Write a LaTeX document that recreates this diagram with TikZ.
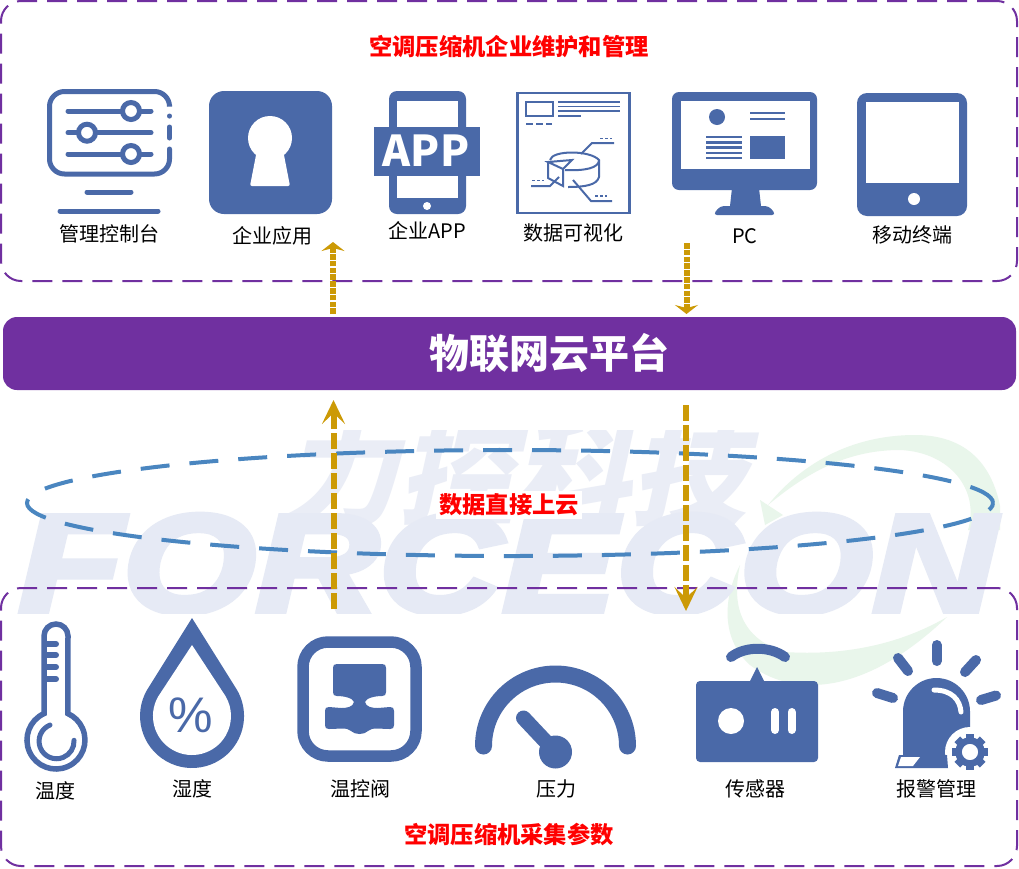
\documentclass[tikz,border=0pt]{standalone}
\usepackage{fontspec}
\setmainfont{Noto Sans CJK SC}
\newfontfamily\wmfont[BoldItalicFeatures={FakeBold=4}]{Liberation Sans}
\newfontfamily\pctfont{Liberation Sans}
\usetikzlibrary{arrows.meta,shapes.geometric}
\definecolor{iconblue}{HTML}{4A69A8}
\definecolor{panelpurple}{HTML}{7030A0}
\definecolor{flowgold}{HTML}{CC9A06}
\definecolor{cloudblue}{HTML}{4A86C0}
\definecolor{wmblue}{HTML}{E6EAF5}
\definecolor{wmpale}{HTML}{EAEDF6}
\definecolor{wmgreen}{HTML}{E9F6EB}
\begin{document}
\begin{tikzpicture}[x=1pt,y=-1pt,
    panel box/.style={draw=panelpurple,line width=2pt,dash pattern=on 20pt off 10pt,rounded corners=20pt,inner sep=0pt,outer sep=0pt,minimum width=1016pt},
    main label/.style={font=\fontsize{20}{24}\selectfont,inner sep=0pt},
    red title/.style={text=red,font=\fontsize{23.3}{27}\selectfont\bfseries,inner sep=0pt},
    flow line/.style={draw=flowgold,line width=6pt},
    small tip/.style={-{Stealth[length=9pt,width=23pt,inset=3pt]}},
    big tip/.style={-{Stealth[length=24pt,width=23pt,inset=11pt]}},
    icon line/.style={draw=iconblue,line width=#1,line cap=round},
    icon line/.default=5pt]
  \fill[white] (0,0) rectangle (1019,868);
  \useasboundingbox (0,0) rectangle (1019,868);

  \begin{scope}
    \clip (0,430) rectangle (1000,690);
    \fill[wmgreen] (768,505) .. controls (800,465) and (850,435) .. (915,435) .. controls (975,435) and (1000,475) .. (1003,530) -- (968,530) .. controls (980,490) and (950,452) .. (900,450) .. controls (850,450) and (810,470) .. (768,505) -- cycle;
    \fill[wmgreen] (760,500) -- (783,515) -- (765,525) -- cycle;
    \fill[wmgreen] (740,565) .. controls (722,600) and (722,640) .. (750,665) .. controls (790,695) and (860,700) .. (947,617) .. controls (890,650) and (830,655) .. (785,652) .. controls (745,640) and (730,610) .. (740,565) -- cycle;
  \end{scope}
  \begin{scope}
    \clip (0,430) rectangle (1019,613);
    \node[text=wmpale,xslant=.22,transform shape,inner sep=0pt,font=\fontsize{116}{120}\selectfont\bfseries] (wmcn) at (524,472) {力控科技};
    \node[text=wmblue,xscale=1.22,transform shape,inner sep=0pt,font=\wmfont\fontsize{140}{140}\selectfont\bfseries\itshape] (wmen) at (507,564) {FORCECON};
  \end{scope}

  \node[panel box,minimum height=280pt] (toppanel) at (509,141) {};
  \node[panel box,minimum height=278pt] (botpanel) at (509,727) {};
  \node[fill=panelpurple,rounded corners=14pt,minimum width=1013pt,minimum height=73pt,inner sep=0pt,outer sep=0pt] (platform) at (509.5,353.5) {};
  \node[text=white,inner sep=0pt,font=\fontsize{40}{44}\selectfont\bfseries] (platformtext) at (549,353) {物联网云平台};
  \node[ellipse,draw=cloudblue,line width=4pt,dash pattern=on 29pt off 20pt,minimum width=966pt,minimum height=106pt,inner sep=0pt,outer sep=0pt] (cloud) at (510,503) {};
  \node[red title,fill=white,inner sep=3pt] (cloudtext) at (509,505) {数据直接上云};

  \node[red title] (toptitle) at (509,47) {空调压缩机企业维护和管理};
  \node[red title] (bottitle) at (509,835) {空调压缩机采集参数};

  \node[main label] (console) at (109,234) {管理控制台};
  \node[main label] (entapp) at (272,236) {企业应用};
  \node[main label] (app) at (427,231) {企业APP};
  \node[main label] (datavis) at (573,233) {数据可视化};
  \node[main label] (pc) at (745,236) {PC};
  \node[main label] (mobile) at (912,235) {移动终端};
  \node[main label] (temp) at (55,791) {温度};
  \node[main label] (humid) at (192,789) {湿度};
  \node[main label] (valve) at (360,789) {温控阀};
  \node[main label] (press) at (556,789) {压力};
  \node[main label] (sensor) at (755,789) {传感器};
  \node[main label] (alarm) at (936,789) {报警管理};

  \draw[icon line,rounded corners=15pt] (169.5,105) -- (169.5,91.5) -- (49.5,91.5) -- (49.5,174) -- (169.5,174) -- (169.5,149);
  \draw[icon line] (169.5,116) -- (169.5,116.1) (169.5,127) -- (169.5,138);
  \draw[icon line] (68,111) -- (151,111) (68,132.7) -- (151,132.7) (68,154) -- (151,154);
  \foreach \kx/\ky in {131/111,87/132.7,131/154}
    \draw[icon line,fill=white] (\kx,\ky) circle (8.5);
  \draw[icon line] (87,192) -- (131,192) (60,211) -- (158,211);

  \fill[iconblue,rounded corners=15pt] (209,91) rectangle (332,214);
  \fill[white] (270,138) circle (22);
  \fill[white,rounded corners=2pt] (257,150) -- (283,150) -- (290,186) -- (250,186) -- cycle;

  \fill[iconblue,rounded corners=8pt] (389,91) rectangle (466,214);
  \fill[white] (397,101) rectangle (458,198);
  \fill[iconblue] (374,127) rectangle (480,176);
  \node[text=white,font=\fontsize{42.5}{46}\selectfont\bfseries,inner sep=0pt] (apptext) at (426,151) {APP};
  \fill[white] (427,206) circle (4);

  \draw[iconblue,line width=2.5pt] (517.5,93) rectangle (629.5,213);
  \draw[iconblue,line width=2pt] (526,102) rectangle (553,115.5);
  \draw[iconblue,line width=1.6pt] (558,102) -- (620,102) (558,106.5) -- (620,106.5) (558,111) -- (620,111) (558,116) -- (581,116);
  \draw[iconblue,line width=1.6pt] (526,124) -- (533,124) (536,124) -- (543,124) (546,124) -- (552,124);
  \begin{scope}[iconblue,line width=2pt]
    \draw (550,160) .. controls (552,150) and (590,150) .. (599,160) .. controls (599,168) and (585,171) .. (565,170);
    \draw (599,160) -- (599,177) .. controls (597,185) and (585,187) .. (568,187);
    \draw (548,162) -- (572,160) -- (563,169) -- cycle;
    \draw (548,162) -- (548,178) -- (563,186) -- (563,169);
    \draw (581,154) -- (592,143) -- (614,143);
    \draw (531,186) -- (550,186) -- (559,177);
    \draw (573,180) -- (591,201) -- (612,201);
    \draw[line width=1.6pt] (600,138.5) -- (603,138.5) (605,138.5) -- (608,138.5) (610,138.5) -- (612,138.5);
    \draw[line width=1.6pt] (532,180.5) -- (535,180.5) (537,180.5) -- (540,180.5) (542,180.5) -- (544,180.5);
    \draw[line width=1.6pt] (595,196) -- (598,196) (600,196) -- (603,196) (605,196) -- (607,196);
  \end{scope}

  \fill[iconblue,rounded corners=7pt] (672,92) rectangle (817,190);
  \fill[white] (681,101) rectangle (810,169);
  \fill[iconblue] (732,188) -- (759,188) -- (761,206) -- (730,206) -- cycle;
  \fill[iconblue,rounded corners=4pt] (713,215) -- (720,206) -- (769,206) -- (776,215) -- cycle;
  \fill[iconblue] (717,117) circle (8);
  \draw[iconblue,line width=2.5pt] (750,113) -- (785,113) (750,119) -- (785,119);
  \foreach \ly in {137,142.5,147.5,153,158}
    \draw[iconblue,line width=2.5pt] (706,\ly) -- (742,\ly);
  \fill[iconblue] (750,136) rectangle (785,159);

  \fill[iconblue,rounded corners=10pt] (857,93) rectangle (967,216);
  \fill[white] (866,102) rectangle (959,183);
  \fill[white] (914,199) circle (6);

  \draw[icon line=5.5pt,fill=white] (44,713.6) arc (245.6:-65.6:29) -- (68,636) arc (0:-180:12) -- cycle;
  \foreach \ty in {644,655,667,679}
    \draw[icon line=6pt] (47,\ty) -- (56,\ty);
  \draw[icon line] (50,725) arc (248:-3:17.5);

  \fill[iconblue] (192,618) -- (147,690) arc (210:-30:52) -- cycle;
  \fill[white] (192,645) -- (158.2,696.5) arc (210:-30:39) -- cycle;
  \node[text=iconblue,inner sep=0pt,font=\pctfont\fontsize{50}{54}\selectfont] (pct) at (191,715) {\%};

  \draw[iconblue,line width=11.5pt,rounded corners=25pt] (303,642) rectangle (416,756);
  \fill[iconblue] (337,664) -- (382,664) .. controls (385,664) and (386,665) .. (386,668) -- (386,692) .. controls (386,695) and (385,696) .. (382,696) .. controls (375,696) and (366,698) .. (365,702) .. controls (366,707) and (372,708) .. (378,708) .. controls (384,708) and (384,707) .. (390,707) .. controls (393,707) and (394,708) .. (394,711) -- (394,725) .. controls (394,728) and (393,729) .. (390,729) .. controls (380,729) and (372,727) .. (368,731) .. controls (364,735) and (355,735) .. (351,731) .. controls (347,727) and (339,729) .. (329,729) .. controls (326,729) and (325,728) .. (325,725) -- (325,711) .. controls (325,708) and (326,707) .. (329,707) .. controls (335,707) and (335,708) .. (341,708) .. controls (347,708) and (353,707) .. (354,702) .. controls (353,698) and (344,696) .. (337,696) .. controls (334,696) and (333,695) .. (333,692) -- (333,668) .. controls (333,665) and (334,664) .. (337,664) -- cycle;

  \draw[icon line=17pt] (483.5,746) arc (180:360:72);
  \draw[icon line=15pt] (523.5,718) -- (555.5,752);
  \fill[iconblue] (555.5,752) circle (16.5);

  \draw[icon line=10pt] (731,657) .. controls (745,646) and (770,646) .. (785,657);
  \fill[iconblue,rounded corners=4pt] (696,681) rectangle (818,762);
  \fill[iconblue] (757,667) -- (765,683) -- (749,683) -- cycle;
  \fill[white] (731,721) circle (13);
  \draw[white,line width=8pt,line cap=round] (775,712) -- (775,730) (791.5,712) -- (791.5,730);

  \foreach \ax/\ay/\bx/\by in {936.6/645/936.6/661,898/658/908/671,976/660/965/672,877/693/893/698,981/700/996/695.5}
    \draw[icon line=10pt] (\ax,\ay) -- (\bx,\by);
  \fill[iconblue] (903,755) -- (903,711.5) arc (180:360:33.5) -- (970,755) -- cycle;
  \draw[white,line width=5pt,line cap=round] (934,690) .. controls (952,690) and (960,700) .. (961,712);
  \fill[white] (970,752) circle (25);
  \fill[iconblue] (899,755) -- (947,755) -- (948,768) -- (895,768) -- cycle;
  \fill[white] (901,757) -- (920,757) -- (913,766) -- (898,766) -- cycle;
  \draw[iconblue,line width=6.5pt] (970,752) circle (11.5);
  \foreach \ga in {0,45,...,315}
    \fill[iconblue,rotate around={\ga:(970,752)}] (966,734) rectangle (974,742);

  \coordinate (upAstart) at (333,314);
  \coordinate (upAend) at (333,242);
  \coordinate (downAstart) at (686.5,243);
  \coordinate (downAend) at (686.5,314);
  \coordinate (upBstart) at (333.5,609);
  \coordinate (upBend) at (333.5,400);
  \coordinate (downBstart) at (686,405);
  \coordinate (downBend) at (686,611);

  \draw[flow line,dash pattern=on 5.6pt off 1.2pt,small tip] (upAstart) -- (upAend);
  \draw[flow line,dash pattern=on 5.6pt off 1.2pt,small tip] (downAstart) -- (downAend);
  \draw[flow line,dash pattern=on 16pt off 4pt,big tip] (upBstart) -- (upBend);
  \draw[flow line,dash pattern=on 16pt off 4pt,big tip] (downBstart) -- (downBend);
\end{tikzpicture}
\end{document}
